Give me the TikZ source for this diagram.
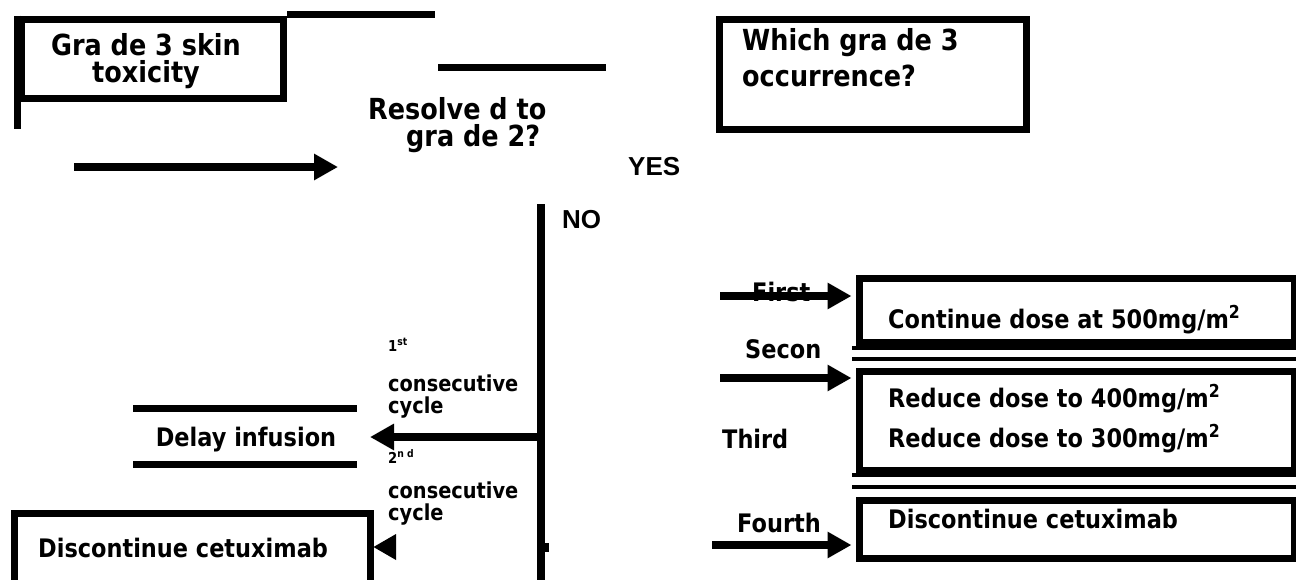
\documentclass[tikz,border=0pt]{standalone}
\usepackage{fontspec}
\usetikzlibrary{arrows.meta}
\newfontfamily\tahfont{DejaVu Sans}[FakeStretch=0.88]
\newfontfamily\arifont{Liberation Sans}
\newcommand{\smallmark}{\fontsize{15}{15}\selectfont}
\begin{document}
\begin{tikzpicture}[x=1pt,y=-1pt,
  frame/.style={draw=black,line width=7pt,inner sep=0pt,anchor=north west},
  bar/.style={line width=7pt},
  thin bar/.style={line width=4pt},
  flow/.style={line width=8pt,-{Triangle[length=24pt,width=25pt]}},
  bigtxt/.style={inner sep=0pt,align=left,font=\tahfont\bfseries\fontsize{29}{27}\selectfont},
  txt/.style={inner sep=0pt,font=\tahfont\bfseries\fontsize{25.5}{26}\selectfont},
  stack/.style={inner sep=0pt,align=left,anchor=base west,font=\tahfont\bfseries\fontsize{22}{22}\selectfont},
  yn/.style={inner sep=0pt,font=\arifont\bfseries\fontsize{26}{28}\selectfont}]
\useasboundingbox[fill=white] (0,0) rectangle (1296,579);

% start box and its loose strokes
\node[frame,minimum width=262pt,minimum height=79pt] (skin) at (17.5,15.5) {};
\draw[bar] (skin.north west) -- (17.5,129);
\node[bigtxt,align=center,anchor=base] (skinA) at (146,82) {Gra de 3 skin\\toxicity};
\coordinate (topbarL) at (287,14.5);
\coordinate (topbarR) at (435,14.5);
\draw[bar] (topbarL) -- (topbarR);

% decision
\coordinate (decbarL) at (438,67);
\coordinate (decbarR) at (606,67);
\draw[bar] (decbarL) -- (decbarR);
\node[bigtxt,anchor=base west] (res) at (368,146) {Resolve d to\\\hspace*{38pt}gra de 2?};
\coordinate (inS) at (74,167);
\coordinate (inE) at (338,167);
\draw[flow] (inS) -- (inE);
\node[yn,anchor=base west] (yes) at (628,175) {YES};
\node[yn,anchor=base west] (no) at (562,228) {NO};

% occurrence question
\node[frame,minimum width=307pt,minimum height=110pt] (which) at (715.5,15.5) {};
\node[bigtxt,anchor=base west,font=\tahfont\bfseries\fontsize{29}{36}\selectfont] (wh) at (742,86) {Which gra de 3\\occurrence?};

% NO branch
\coordinate (noTop) at (541,204);
\coordinate (noBot) at (541,581);
\draw[line width=8pt] (noTop) -- (noBot);
\fill (545,543) rectangle (549,552);
\coordinate (delayS) at (541,437);
\coordinate (delayE) at (370,437);
\draw[flow] (delayS) -- (delayE);
\node[stack] (c1) at (388,413) {{\smallmark 1\textsuperscript{st}}\\[18pt]consecutive\\cycle};
\node[stack] (c2) at (388,520) {{\smallmark 2\textsuperscript{n d}}\\[13pt]consecutive\\cycle};

\coordinate (dlA) at (133,408);
\coordinate (dlB) at (357,408);
\coordinate (dlC) at (133,464);
\coordinate (dlD) at (357,464);
\draw[bar] (dlA) -- (dlB);
\draw[bar] (dlC) -- (dlD);
\node[txt,anchor=base] (delay) at (246,446) {Delay infusion};

\node[frame,minimum width=356pt,minimum height=71pt] (stopL) at (10.5,509.5) {};
\node[txt,anchor=base west] (stopLt) at (38,557) {Discontinue cetuximab};
\fill (stopL.east |- 0,547) -- (396,534) -- (396,560) -- cycle;

% YES branch: dose table
\node[frame,minimum width=435pt,minimum height=64pt] (dose1) at (855.5,274.5) {};
\draw[thin bar] (852,348) -- (1296,348);
\draw[thin bar] (852,359) -- (1296,359);
\node[frame,minimum width=435pt,minimum height=99pt] (dose2) at (855.5,367.5) {};
\draw[thin bar] (852,475) -- (1296,475);
\draw[thin bar] (852,487) -- (1296,487);
\node[frame,minimum width=435pt,minimum height=58pt] (dose4) at (855.5,496.5) {};

\node[txt,anchor=base west] (t1) at (888,328) {Continue dose at 500mg/m\textsuperscript{2}};
\node[txt,anchor=base west] (t2) at (888,407) {Reduce dose to 400mg/m\textsuperscript{2}};
\node[txt,anchor=base west] (t3) at (888,447) {Reduce dose to 300mg/m\textsuperscript{2}};
\node[txt,anchor=base west] (t4) at (888,528) {Discontinue cetuximab};

\node[txt,anchor=base west] (l1) at (752,301) {First};
\node[txt,anchor=base west] (l2) at (745,358) {Secon};
\node[txt,anchor=base west] (l3) at (722,448) {Third};
\node[txt,anchor=base west] (l4) at (737,532) {Fourth};

\coordinate (a1) at (720,296);
\coordinate (a2) at (720,378);
\coordinate (a4) at (712,545);
\draw[flow] (a1) -- ([xshift=-4pt]a1 -| dose1.west);
\draw[flow] (a2) -- ([xshift=-4pt]a2 -| dose2.west);
\draw[flow] (a4) -- ([xshift=-4pt]a4 -| dose4.west);
\end{tikzpicture}
\end{document}
